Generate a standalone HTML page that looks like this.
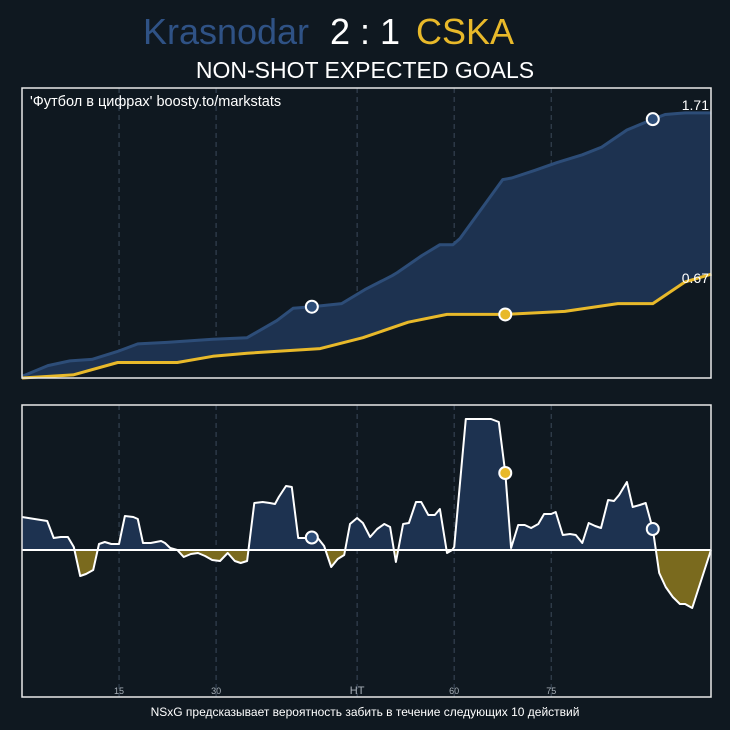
<!DOCTYPE html>
<html><head><meta charset="utf-8">
<style>
html,body{margin:0;padding:0;background:#0f1820;}
svg{display:block;}
text{font-family:"Liberation Sans","DejaVu Sans",sans-serif;}
</style></head>
<body>
<svg id="chart" width="730" height="730" viewBox="0 0 730 730">
  <rect x="0" y="0" width="730" height="730" fill="#0f1820"/>
  <text x="226" y="44" font-size="36" fill="#2f5285" text-anchor="middle">Krasnodar</text>
  <text x="365" y="44" font-size="36" fill="#ffffff" text-anchor="middle">2 : 1</text>
  <text x="465" y="44" font-size="36" fill="#e8b92a" text-anchor="middle">CSKA</text>
  <text x="365" y="78" font-size="23" fill="#ffffff" text-anchor="middle">NON-SHOT EXPECTED GOALS</text>
  <text x="365" y="716" font-size="12" fill="#ffffff" text-anchor="middle">NSxG предсказывает вероятность забить в течение следующих 10 действий</text>
  <defs>
    <clipPath id="clipPos"><rect x="22" y="405" width="689" height="145"/></clipPath>
    <clipPath id="clipNeg"><rect x="22" y="550" width="689" height="147"/></clipPath>
  </defs>
  <g id="topPanel"></g>
  <g id="bottomPanel"></g>
</svg>
<script>
const tickPos = [15, 30, 51.8, 66.8, 81.8];
const tickLabels = ['15', '30', 'HT', '60', '75'];
const homeT = [0,4.0,7.4,10.8,14.7,17.9,22.4,29.5,34.8,39.4,41.9,44.8,49.4,53.0,57.2,58.0,61.8,64.6,66.6,67.7,74.3,75.7,79.3,82.7,86.6,89.6,93.5,97.5,99.4,102.5,106.6];
const homeV = [0.01,0.08,0.11,0.12,0.17,0.22,0.23,0.25,0.26,0.37,0.45,0.46,0.48,0.57,0.66,0.68,0.79,0.86,0.86,0.90,1.28,1.29,1.34,1.39,1.44,1.49,1.60,1.67,1.70,1.71,1.71];
const awayT = [0,7.9,14.8,24.0,29.5,34.8,46.1,52.7,59.7,65.7,74.7,83.9,92.1,97.5,102.5,106.6];
const awayV = [0,0.02,0.10,0.10,0.14,0.16,0.19,0.26,0.36,0.41,0.41,0.43,0.48,0.48,0.62,0.67];
const homeGoals = [44.8, 97.5];
const awayGoals = [74.7];
const diffT = [0,3.9,4.9,6.0,7.1,8.0,9.0,9.9,11.0,11.9,12.8,13.8,15.0,15.9,17.2,17.9,18.7,19.9,21.5,22.1,22.9,24.0,25.0,26.1,27.2,28.3,29.4,30.6,31.8,32.9,33.8,34.8,35.9,37.2,38.3,39.1,39.7,40.8,41.7,42.7,44.0,45.6,46.7,47.8,48.8,49.8,50.7,51.8,52.7,53.8,54.9,56.0,56.9,57.8,58.9,59.8,60.9,61.7,62.8,63.8,64.6,65.7,66.5,66.8,68.6,72.5,73.7,74.7,75.6,76.7,77.7,78.7,79.8,80.7,81.8,82.5,83.6,84.7,85.6,86.6,87.6,88.6,89.5,90.6,91.5,92.3,93.5,94.4,95.5,96.4,97.5,98.5,99.5,100.6,101.7,102.5,103.6,106.5];
const diffV = [0.33,0.29,0.12,0.13,0.13,0.03,-0.26,-0.24,-0.20,0.06,0.08,0.06,0.06,0.34,0.33,0.31,0.07,0.07,0.09,0.07,0.02,0,-0.07,-0.04,-0.03,-0.06,-0.10,-0.11,-0.03,-0.11,-0.13,-0.11,0.47,0.48,0.47,0.46,0.53,0.64,0.63,0.12,0.12,0.13,0.04,-0.17,-0.09,-0.05,0.26,0.32,0.27,0.13,0.21,0.26,0.23,-0.12,0.26,0.27,0.48,0.48,0.35,0.35,0.41,-0.03,0,0.03,1.31,1.31,1.28,0.77,0.02,0.25,0.25,0.22,0.26,0.36,0.36,0.38,0.15,0.16,0.15,0.07,0.27,0.24,0.22,0.50,0.49,0.55,0.68,0.43,0.45,0.47,0.21,-0.23,-0.37,-0.47,-0.54,-0.54,-0.58,0];

const NS='http://www.w3.org/2000/svg';
const X0=22, X1=711, TMAX=106.5;
const xs = t => X0 + t*(X1-X0)/TMAX;
const yTop = v => 378 - v*155;
const yBot = v => 550 - v*100;
function mk(parent, tag, attrs){const e=document.createElementNS(NS,tag);for(const k in attrs)e.setAttribute(k,attrs[k]);parent.appendChild(e);return e;}
function interp(T,V,t){for(let i=1;i<T.length;i++){if(t<=T[i]){const f=(t-T[i-1])/(T[i]-T[i-1]||1);return V[i-1]+f*(V[i]-V[i-1]);}}return V[V.length-1];}
function pts(T,V,ys){return T.map((t,i)=>xs(t).toFixed(1)+','+ys(V[i]).toFixed(1)).join(' ');}

function panel(g, yTopEdge, yBottomEdge, namePrefix){
  tickPos.forEach((t,i)=>{
    const l=mk(g,'line',{x1:xs(t),x2:xs(t),y1:yTopEdge,y2:yBottomEdge,stroke:'#3b4a5a','stroke-dasharray':'5,4','stroke-width':1});
    
    
    const tx=mk(g,'text',{x:xs(t),y:yBottomEdge-3,'font-size':tickLabels[i]==='HT'?11:9,fill:'#a8b0b8','text-anchor':'middle'});
    tx.textContent=tickLabels[i];
    
    
  });
}

// TOP
const topG=document.getElementById('topPanel');
panel(topG,88,378,'top');
const homeArea=mk(topG,'polygon',{points:xs(0)+',378 '+pts(homeT,homeV,yTop)+' '+xs(homeT[homeT.length-1])+',378',fill:'#1d3250'});


const homeLine=mk(topG,'polyline',{points:pts(homeT,homeV,yTop),fill:'none',stroke:'#2d4d78','stroke-width':3,'stroke-linejoin':'round'});


const awayArea=mk(topG,'polygon',{points:xs(0)+',378 '+pts(awayT,awayV,yTop)+' '+xs(awayT[awayT.length-1])+',378',fill:'#0f1820'});


const awayLine=mk(topG,'polyline',{points:pts(awayT,awayV,yTop),fill:'none',stroke:'#e8b92a','stroke-width':3,'stroke-linejoin':'round'});


homeGoals.forEach(t=>{
  const c=mk(topG,'circle',{cx:xs(t),cy:yTop(interp(homeT,homeV,t)),r:6,fill:'#2d4d78',stroke:'#fff','stroke-width':2});
  
  
});
awayGoals.forEach(t=>{
  const c=mk(topG,'circle',{cx:xs(t),cy:yTop(interp(awayT,awayV,t)),r:6,fill:'#e8b92a',stroke:'#fff','stroke-width':2});
  
  
});
const hl=mk(topG,'text',{x:709,y:yTop(homeV[homeV.length-1])-3,'font-size':14,fill:'#fff','text-anchor':'end'});
hl.textContent=homeV[homeV.length-1].toFixed(2);


const al=mk(topG,'text',{x:709,y:yTop(awayV[awayV.length-1])+9,'font-size':14,fill:'#fff','text-anchor':'end'});
al.textContent=awayV[awayV.length-1].toFixed(2);


const wm=mk(topG,'text',{x:30,y:106,'font-size':14.5,fill:'#fff'});
wm.textContent="'Футбол в цифрах' boosty.to/markstats";


const tb=mk(topG,'rect',{x:22,y:88,width:689,height:290,fill:'none',stroke:'#e8e8e8','stroke-width':1.5});



// BOTTOM
const botG=document.getElementById('bottomPanel');
panel(botG,405,697,'bottom');
const areaPts=xs(diffT[0])+',550 '+pts(diffT,diffV,yBot)+' '+xs(diffT[diffT.length-1])+',550';
const pos=mk(botG,'polygon',{points:areaPts,fill:'#1d3250','clip-path':'url(#clipPos)'});


const neg=mk(botG,'polygon',{points:areaPts,fill:'#7a6a1e','clip-path':'url(#clipNeg)'});


const zl=mk(botG,'line',{x1:22,x2:711,y1:550,y2:550,stroke:'#fff','stroke-width':2});


const dl=mk(botG,'polyline',{points:pts(diffT,diffV,yBot),fill:'none',stroke:'#fff','stroke-width':2,'stroke-linejoin':'round'});


homeGoals.forEach(t=>{
  const c=mk(botG,'circle',{cx:xs(t),cy:yBot(interp(diffT,diffV,t)),r:6,fill:'#2d4d78',stroke:'#fff','stroke-width':2});
  
  
});
awayGoals.forEach(t=>{
  const c=mk(botG,'circle',{cx:xs(t),cy:yBot(interp(diffT,diffV,t)),r:6,fill:'#e8b92a',stroke:'#fff','stroke-width':2});
  
  
});
const bb=mk(botG,'rect',{x:22,y:405,width:689,height:292,fill:'none',stroke:'#e8e8e8','stroke-width':1.5});


</script>
</body></html>
